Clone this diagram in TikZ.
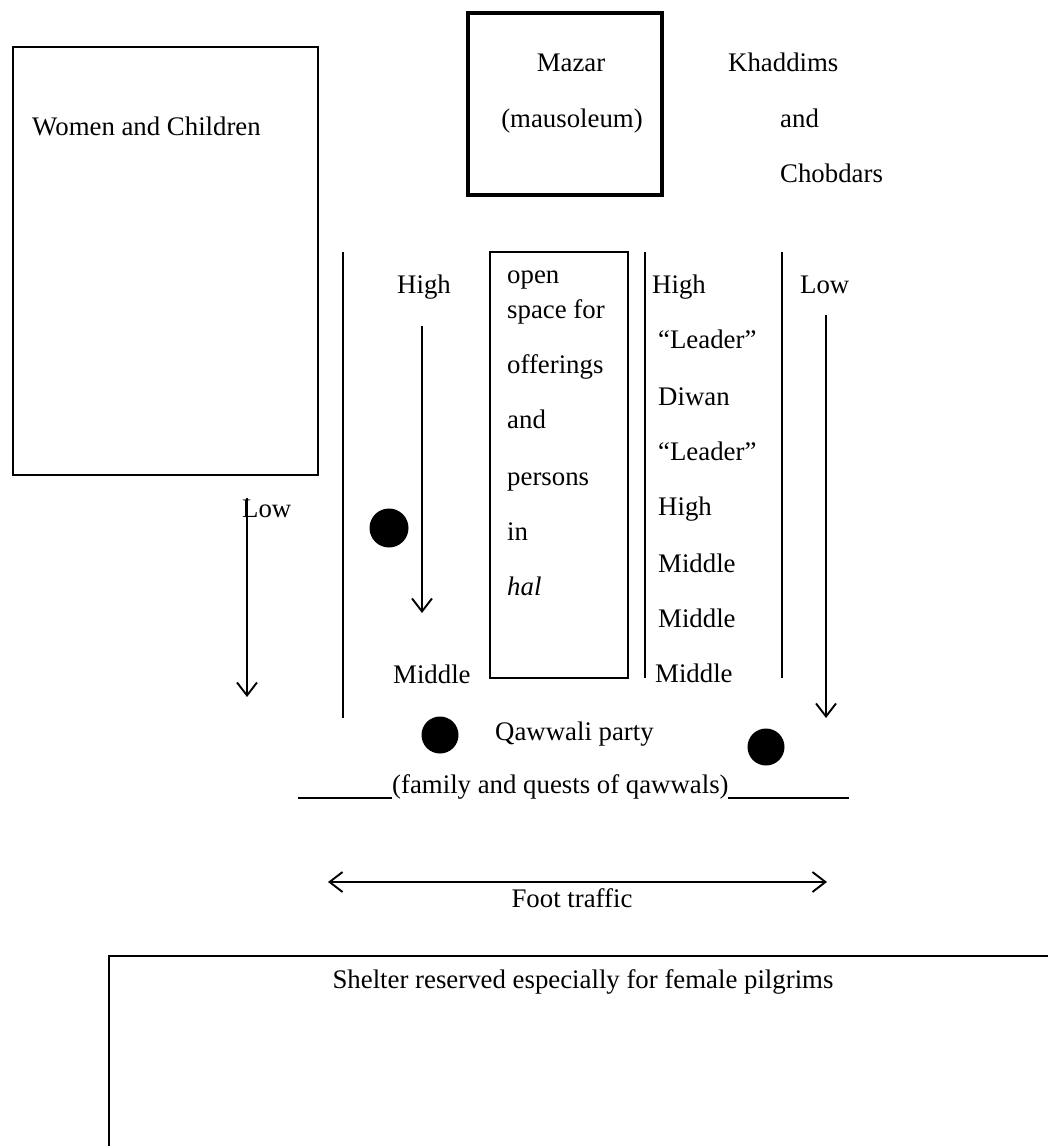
\documentclass[tikz,border=0pt]{standalone}
\usepackage{fontspec}
\setmainfont{Liberation Serif}
\usetikzlibrary{arrows.meta}
\tikzset{
  lbl/.style={inner sep=0pt, anchor=base west, font=\fontsize{26.8pt}{31pt}\selectfont},
  lblc/.style={inner sep=0pt, anchor=base, font=\fontsize{26.8pt}{31pt}\selectfont},
  thin box/.style={draw=black, line width=1.9pt},
  thick box/.style={draw=black, line width=4.5pt},
  rule/.style={draw=black, line width=1.9pt},
  flow/.style={draw=black, line width=1.9pt, -{Straight Barb[length=13pt,width=20pt,line width=1.9pt]}},
  twoway/.style={draw=black, line width=1.9pt, {Straight Barb[length=13pt,width=20pt,line width=1.9pt]}-{Straight Barb[length=13pt,width=20pt,line width=1.9pt]}},
  dot/.style={circle, fill=black, inner sep=0pt}
}
\begin{document}
\begin{tikzpicture}[x=1pt,y=-1pt]
\useasboundingbox (0,0) rectangle (1048,1146);
\fill[white] (0,0) rectangle (1048,1146);

% boxes
\draw[thin box] (13,47) rectangle (318,475);
\node[lbl] (women) at (32,135) {Women and Children};

\draw[thick box] (468,13) rectangle (662,195);
\node[lblc] (mazar) at (571,71) {Mazar};
\node[lblc] (maus) at (572,127) {(mausoleum)};

\node[lbl] (khad) at (728,71) {Khaddims};
\node[lbl] (and1) at (780,127) {and};
\node[lbl] (chob) at (780,182) {Chobdars};

\draw[thin box] (490,252) rectangle (628,678);
\node[lbl] (open) at (507,283) {open};
\node[lbl] (space) at (507,318) {space for};
\node[lbl] (offer) at (507,373) {offerings};
\node[lbl] (and2) at (507,428) {and};
\node[lbl] (pers) at (507,485) {persons};
\node[lbl] (in) at (507,540) {in};
\node[lbl] (hal) at (507,595) {\itshape hal};

% vertical rules
\coordinate (l1t) at (343,252); \coordinate (l1b) at (343,718);
\coordinate (l2t) at (645,252); \coordinate (l2b) at (645,678);
\coordinate (l3t) at (782,252); \coordinate (l3b) at (782,678);
\draw[rule] (l1t) -- (l1b);
\draw[rule] (l2t) -- (l2b);
\draw[rule] (l3t) -- (l3b);

% left side labels
\node[lbl] (highL) at (397,293) {High};
\node[lbl] (midL) at (393,683) {Middle};
\node[lbl] (lowL) at (242,517) {Low};

% right column labels
\node[lbl] (highR) at (652,293) {High};
\node[lbl] (lead1) at (658,348) {“Leader”};
\node[lbl] (diwan) at (658,405) {Diwan};
\node[lbl] (lead2) at (658,460) {“Leader”};
\node[lbl] (high2) at (658,515) {High};
\node[lbl] (mid1) at (658,572) {Middle};
\node[lbl] (mid2) at (658,627) {Middle};
\node[lbl] (mid3) at (655,682) {Middle};
\node[lbl] (lowR) at (800,293) {Low};

% arrows
\coordinate (a1s) at (247,498); \coordinate (a1e) at (247,697);
\coordinate (a2s) at (422,326); \coordinate (a2e) at (422,613);
\coordinate (a3s) at (826,315); \coordinate (a3e) at (826,718);
\draw[flow] (a1s) -- (a1e);
\draw[flow] (a2s) -- (a2e);
\draw[flow] (a3s) -- (a3e);

% dots
\node[dot, minimum size=39pt] (d1) at (389,528) {};
\node[dot, minimum size=37pt] (d2) at (440,735) {};
\node[dot, minimum size=37pt] (d3) at (766,747) {};

\node[lbl] (qaw) at (495,740) {Qawwali party};
\node[lbl] (fam) at (392,793) {(family and quests of qawwals)};
\coordinate (u1a) at (298,798); \coordinate (u1b) at (392,798);
\coordinate (u2a) at (728,798); \coordinate (u2b) at (849,798);
\draw[rule, line width=1.5pt] (u1a) -- (u1b);
\draw[rule, line width=1.5pt] (u2a) -- (u2b);

% foot traffic
\coordinate (fl) at (328,882); \coordinate (fr) at (827,882);
\draw[twoway] (fl) -- (fr);
\node[lblc] (foot) at (572,907) {Foot traffic};

% shelter
\draw[thin box] (1048,956) -- (109,956) -- (109,1146);
\node[lblc] (shelter) at (583,988) {Shelter reserved especially for female pilgrims};
\end{tikzpicture}
\end{document}
